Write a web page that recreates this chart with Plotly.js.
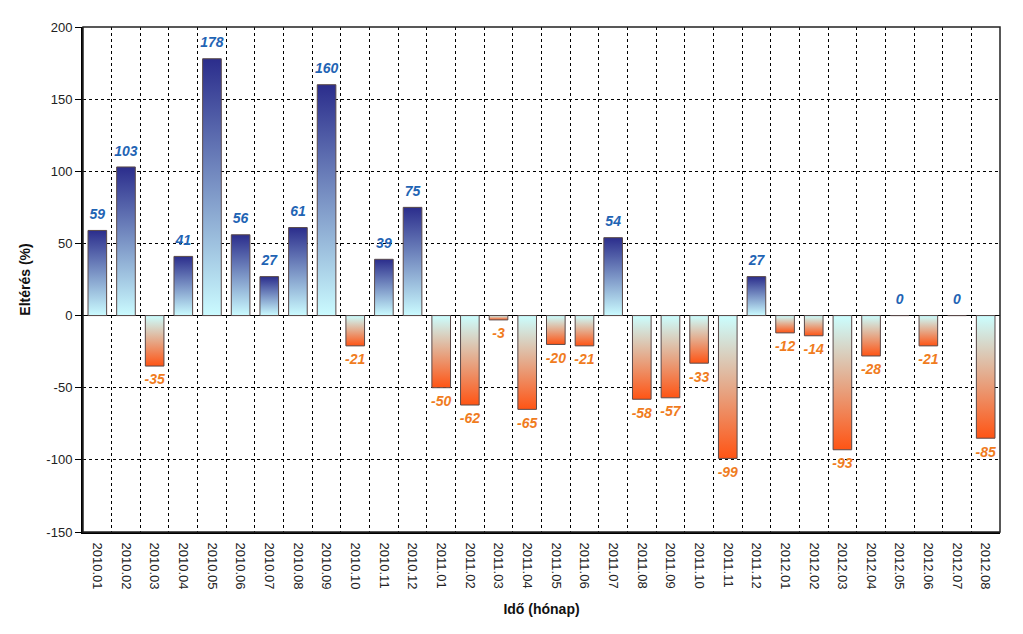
<!DOCTYPE html>
<html>
<head>
<meta charset="utf-8">
<script src="https://cdn.plot.ly/plotly-3.0.1.min.js"></script>
<style>html,body{margin:0;padding:0;background:#fff;}#chart{width:1023px;height:634px;}</style>
</head>
<body>
<div id="chart"></div>
<script>
const months = ["2010.01","2010.02","2010.03","2010.04","2010.05","2010.06","2010.07","2010.08","2010.09","2010.10","2010.11","2010.12",
"2011.01","2011.02","2011.03","2011.04","2011.05","2011.06","2011.07","2011.08","2011.09","2011.10","2011.11","2011.12",
"2012.01","2012.02","2012.03","2012.04","2012.05","2012.06","2012.07","2012.08"];
const deviation = [59,103,-35,41,178,56,27,61,160,-21,39,75,
-50,-62,-3,-65,-20,-21,54,-58,-57,-33,-99,27,
-12,-14,-93,-28,0,-21,0,-85];
const yTicks = [-150,-100,-50,0,50,100,150,200];

const posLabel = '#1f64b4', negLabel = '#f07c1e';

const bars = {
  type:'bar', x: months, y: deviation,
  marker:{color: deviation.map(v=> v>=0 ? '#6c8fc0' : '#f59070'), line:{color:'#5a4a4a', width:1}},
  hoverinfo:'x+y'
};

const labels = {
  type:'scatter', mode:'markers+text', x: months, y: deviation,
  text: deviation.map(String),
  textposition: deviation.map(v=> v>=0 ? 'top center' : 'bottom center'),
  textfont:{family:'Liberation Sans, Arial, sans-serif', size:14, weight:'bold', style:'italic',
            color: deviation.map(v=> v>=0 ? posLabel : negLabel)},
  marker:{size:11, opacity:0, color:'#fff'},
  cliponaxis:false,
  hoverinfo:'skip'
};

const layout = {
  width:1023, height:634,
  margin:{l:83, r:23, t:27, b:102},
  paper_bgcolor:'#fff', plot_bgcolor:'#fff',
  bargap:0.35,
  showlegend:false,
  font:{family:'Liberation Sans, Arial, sans-serif', color:'#222'},
  xaxis:{
    type:'category', tickson:'boundaries', tickangle:90,
    showgrid:true, gridcolor:'#000', gridwidth:1, griddash:'3px,3px',
    ticks:'', showline:true, linecolor:'#000', linewidth:2,
    ticklabelstandoff:6,
    tickfont:{size:13, color:'#222'},
    title:{text:'Idő (hónap)', font:{size:14, color:'#111', weight:'bold'}, standoff:16},
    range:[-0.5, months.length-0.5]
  },
  yaxis:{
    range:[-150,200], tickvals:yTicks, ticktext:yTicks.map(String),
    showgrid:true, gridcolor:'#000', gridwidth:1, griddash:'3px,3px',
    zeroline:true, zerolinecolor:'#000', zerolinewidth:1.5,
    ticks:'outside', ticklen:6, tickcolor:'#000', tickwidth:1,
    showline:true, linecolor:'#000', linewidth:2,
    tickfont:{size:13, color:'#222'},
    title:{text:'Eltérés (%)', font:{size:14, color:'#111', weight:'bold'}, standoff:12}
  },
  shapes:[{type:'rect', xref:'paper', yref:'paper', x0:0, x1:1, y0:0, y1:1, line:{color:'#222', width:1.5}, fillcolor:'rgba(0,0,0,0)', layer:'above'}]
};

Plotly.newPlot('chart', [bars, labels], layout, {staticPlot:true}).then(gd=>{
  const svgNS = 'http://www.w3.org/2000/svg';
  const svg = gd.querySelector('.main-svg');
  let defs = svg.querySelector('defs');
  if(!defs){ defs = document.createElementNS(svgNS,'defs'); svg.insertBefore(defs, svg.firstChild); }
  function grad(id, c0, c1){
    const g = document.createElementNS(svgNS,'linearGradient');
    g.setAttribute('id', id); g.setAttribute('x1','0'); g.setAttribute('y1','0'); g.setAttribute('x2','0'); g.setAttribute('y2','1');
    [[0,c0],[1,c1]].forEach(([o,c])=>{
      const s = document.createElementNS(svgNS,'stop');
      s.setAttribute('offset', o); s.setAttribute('stop-color', c);
      g.appendChild(s);
    });
    defs.appendChild(g);
  }
  grad('gradPos', '#2b2d8c', '#cbfbff');
  grad('gradNeg', '#cbfeff', '#ff5414');
  const paths = gd.querySelectorAll('.barlayer .trace .point path');
  paths.forEach((p,i)=>{
    p.style.fill = deviation[i] >= 0 ? 'url(#gradPos)' : 'url(#gradNeg)';
    p.style.fillOpacity = 1;
  });
});
</script>
</body>
</html>
